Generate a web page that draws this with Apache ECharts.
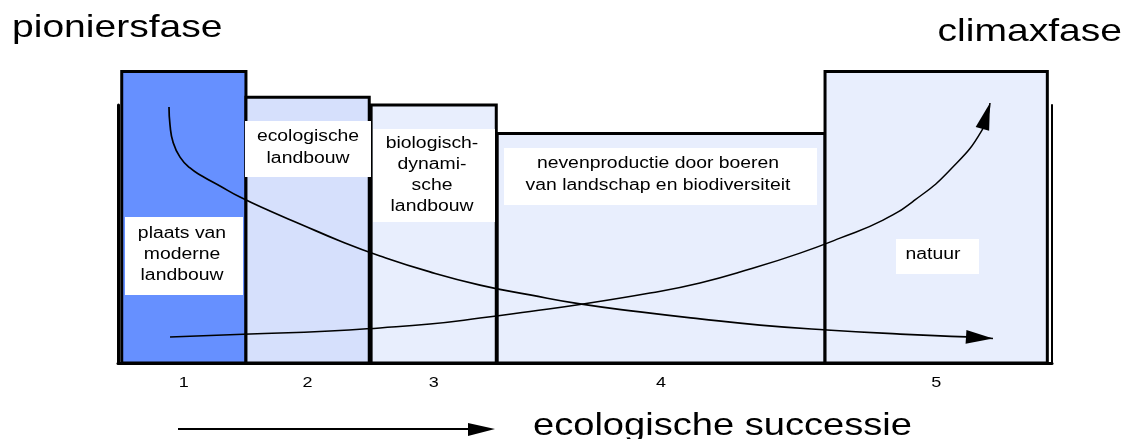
<!DOCTYPE html>
<html>
<head>
<meta charset="utf-8">
<script src="https://cdn.jsdelivr.net/npm/echarts@6/dist/echarts.min.js"></script>
<style>
html,body{margin:0;padding:0;background:#fff;}
#chart{width:1127px;height:439px;}
</style>
</head>
<body>
<div id="chart"></div>
<script>
// ---- data ----
var categories = ['1', '2', '3', '4', '5'];
var segStart = [0.4, 13.7, 27.1, 40.6, 75.7];
var segEnd = [13.7, 26.9, 40.5, 75.7, 99.5];
var heights = [113, 103, 100, 89, 113];
var pioneerTrend = [[5.46, 99.2], [5.57, 92.2], [5.89, 85.7], [6.64, 79.8], [7.71, 75.6], [8.99, 72.5], [10.92, 68.6], [13.06, 64.3], [16.27, 58.9], [19.49, 53.9], [23.77, 47.3], [28.05, 41.5], [33.4, 35.3], [38.76, 30.2], [44.11, 26.4], [49.46, 22.9], [55.89, 19.8], [62.31, 17.1], [68.74, 14.7], [75.91, 12.8], [83.73, 11.2], [90.9, 10.1], [93.68, 9.5]];
var climaxTrend = [[5.57, 10.1], [14.13, 11.2], [22.7, 12.4], [28.05, 13.6], [33.4, 15.1], [38.76, 17.4], [44.11, 20.0], [49.46, 22.7], [56.96, 27.1], [62.31, 31.0], [67.67, 36.4], [73.02, 42.6], [77.3, 48.4], [81.91, 55.4], [85.33, 63.2], [89.08, 74.8], [92.51, 90.3], [93.36, 100.8]];
var barLabels = ['plaats van\nmoderne\nlandbouw', 'ecologische\nlandbouw', 'biologisch-\ndynami-\nsche\nlandbouw', 'nevenproductie door boeren\nvan landschap en biodiversiteit', 'natuur'];

// ---- styles ----
var FONT = '"Liberation Sans", Arial, Helvetica, sans-serif';
var barColors = ['#6690ff', '#d6e0fc', '#e8eefd', '#e8eefd', '#e8eefd'];
var SX = 1.21;

var barData = categories.map(function (c, i) { return [segStart[i], segEnd[i], heights[i]]; });

function txt(text, x, y, size, align, scale, lh) {
  return {
    type: 'text', x: x, y: y, scaleX: scale, z: 20,
    style: {
      text: text, font: size + 'px ' + FONT, fill: '#000',
      align: align, textAlign: align, verticalAlign: 'middle', textVerticalAlign: 'middle',
      lineHeight: lh || size
    }
  };
}
function box(x, y, w, h) {
  return { type: 'rect', z: 15, shape: { x: x, y: y, width: w, height: h }, style: { fill: '#fff' } };
}

var graphics = [
  txt('pioniersfase', 12, 28, 32, 'left', 1.22),
  txt('climaxfase', 1122, 32, 32, 'right', 1.22),
  txt('ecologische successie', 533, 426, 32, 'left', 1.19),
  { type: 'line', z: 20, shape: { x1: 178, y1: 429, x2: 472, y2: 429 }, style: { stroke: '#000', lineWidth: 2 } },
  { type: 'polygon', z: 20, shape: { points: [[495, 429], [468, 423], [468, 436]] }, style: { fill: '#000' } },
  box(125, 217, 118, 78), txt(barLabels[0], 182, 255, 16, 'center', SX, 21),
  box(245, 121, 126, 56), txt(barLabels[1], 308, 148, 16, 'center', SX, 22),
  box(373, 129, 122, 93), txt(barLabels[2], 432, 175, 16, 'center', SX, 21),
  box(504, 148, 313, 57), txt(barLabels[3], 658, 175, 16, 'center', SX, 22),
  box(896, 239, 83, 35), txt(barLabels[4], 933, 255, 16, 'center', SX, 16)
];

function arrowHead(tip, prev, len, half) {
  var dx = tip[0] - prev[0], dy = tip[1] - prev[1];
  var d = Math.sqrt(dx * dx + dy * dy) || 1;
  var ux = dx / d, uy = dy / d, nx = -uy, ny = ux;
  var bx = tip[0] - ux * len, by = tip[1] - uy * len;
  return [[tip[0], tip[1]], [bx + nx * half, by + ny * half], [bx - nx * half, by - ny * half]];
}

var trends = [pioneerTrend, climaxTrend];

var option = {
  animation: false,
  grid: { left: 118, right: 75, top: 105, bottom: 76, containLabel: false },
  xAxis: {
    type: 'value', min: 0, max: 100,
    axisLine: { show: true, onZero: false, lineStyle: { color: '#000', width: 3 } },
    axisTick: { show: false }, axisLabel: { show: false }, splitLine: { show: false }
  },
  yAxis: [
    {
      type: 'value', min: 0, max: 100, position: 'left',
      axisLine: { show: true, lineStyle: { color: '#000', width: 3 } },
      axisTick: { show: false }, axisLabel: { show: false }, splitLine: { show: false }
    },
    {
      type: 'value', min: 0, max: 100, position: 'right',
      axisLine: { show: true, lineStyle: { color: '#000', width: 2 } },
      axisTick: { show: false }, axisLabel: { show: false }, splitLine: { show: false }
    }
  ],
  graphic: { elements: graphics },
  series: [
    {
      type: 'custom', name: 'fasen', clip: false, z: 2,
      data: barData,
      encode: { x: [0, 1], y: 2 },
      renderItem: function (params, api) {
        var i = params.dataIndex;
        var p0 = api.coord([api.value(0), api.value(2)]);
        var p1 = api.coord([api.value(1), 0]);
        return {
          type: 'group', children: [
            { type: 'rect', shape: { x: p0[0], y: p0[1], width: p1[0] - p0[0], height: p1[1] - p0[1] },
              style: { fill: barColors[i], stroke: '#000', lineWidth: 3 } },
            { type: 'text', x: (p0[0] + p1[0]) / 2, y: p1[1] + 20, scaleX: 1.2,
              style: { text: categories[i], font: '15px ' + FONT, fill: '#000',
                align: 'center', textAlign: 'center', verticalAlign: 'middle', textVerticalAlign: 'middle' } }
          ]
        };
      }
    },
    {
      type: 'line', name: 'pionier', data: pioneerTrend, smooth: 0.5, symbol: 'none', z: 5, clip: false,
      lineStyle: { color: '#000', width: 1.7 }
    },
    {
      type: 'line', name: 'climax', data: climaxTrend, smooth: 0.5, symbol: 'none', z: 5, clip: false,
      lineStyle: { color: '#000', width: 1.5 }
    },
    {
      type: 'custom', name: 'pijlen', clip: false, z: 6,
      data: [[0], [1]],
      renderItem: function (params, api) {
        var t = trends[params.dataIndex];
        var tip = api.coord(t[t.length - 1]);
        var prev = api.coord(t[t.length - 2]);
        var pts = arrowHead(tip, prev, 27, 7);
        return { type: 'polygon', shape: { points: pts }, style: { fill: '#000' } };
      }
    }
  ]
};

var chart = echarts.init(document.getElementById('chart'), null, { renderer: 'canvas' });
chart.setOption(option);
</script>
</body>
</html>
